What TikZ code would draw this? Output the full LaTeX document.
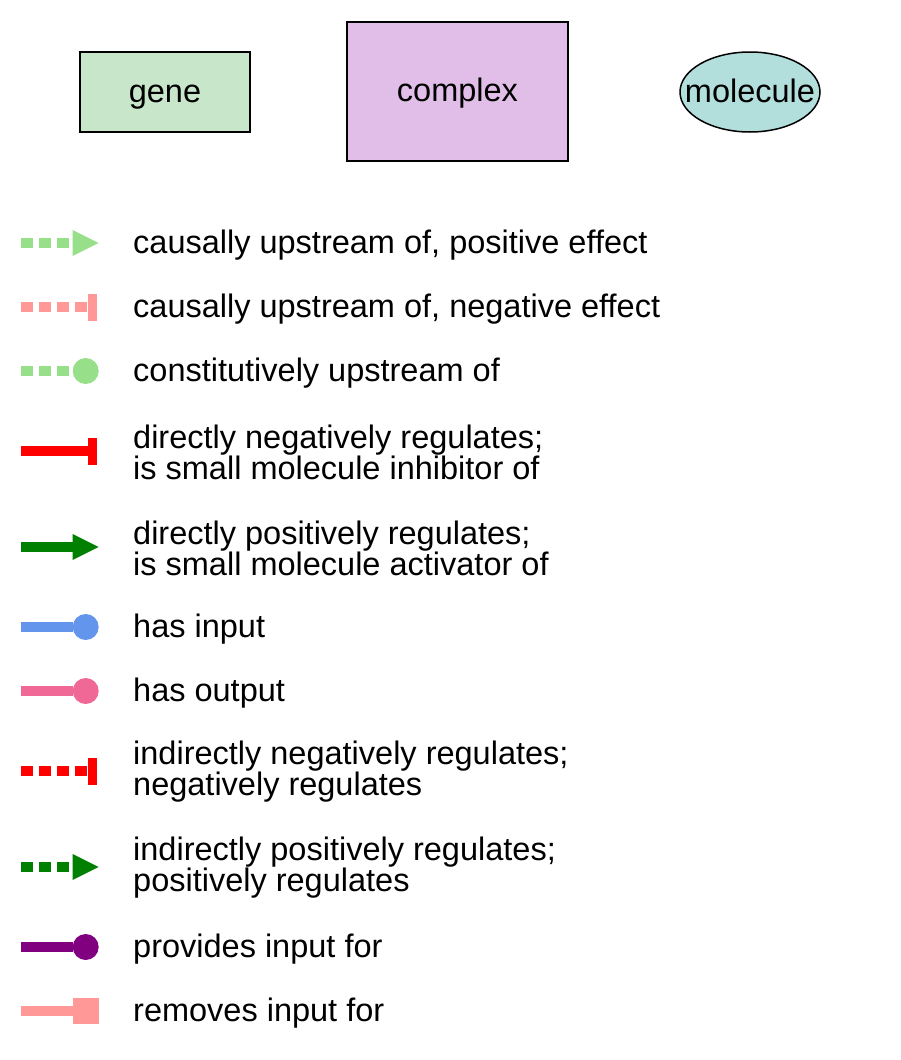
\documentclass[tikz,border=0pt]{standalone}
\usepackage{fontspec}
\setmainfont{Liberation Sans}
\usetikzlibrary{arrows.meta,shapes.geometric}
\definecolor{lgreen}{HTML}{98DF8A}
\definecolor{lsalmon}{HTML}{FF9896}
\definecolor{dgreen}{HTML}{008000}
\definecolor{cblue}{HTML}{6495ED}
\definecolor{hpink}{HTML}{F06896}
\definecolor{dpurple}{HTML}{800080}
\definecolor{genefill}{HTML}{C8E6C9}
\definecolor{cplxfill}{HTML}{E1BEE7}
\definecolor{molfill}{HTML}{B2DFDB}
\tikzset{
  txt/.style={font=\fontsize{32.5pt}{31pt}\selectfont, inner sep=0pt},
  lbl/.style={txt, anchor=base west},
  lbltwo/.style={txt, anchor=west, align=left},
  ent/.style={txt, draw=black, line width=1.5pt, text height=25pt, text depth=5pt},
  leg/.style={line width=9.5pt},
  dsh/.style={leg, dash pattern=on 12pt off 6pt},
  tri/.style={-{Triangle[length=26pt,width=26pt,line width=0pt]}},
  dot/.style={-{Circle[length=26pt,line width=0pt]}},
  bar/.style={-{Rectangle[length=9pt,width=27pt,line width=0pt]}},
  sqr/.style={-{Rectangle[length=26pt,width=26pt,line width=0pt]}},
}
\begin{document}
\begin{tikzpicture}[x=1pt,y=-1pt]
\useasboundingbox (0,0) rectangle (900,1060);
% entity legend
\node[ent, fill=genefill, rectangle, minimum width=170pt, minimum height=80pt] (gene) at (165,92) {gene};
\node[ent, fill=cplxfill, rectangle, minimum width=221pt, minimum height=139pt] (complex) at (457.5,91.5) {complex};
\node[ent, fill=molfill, ellipse, minimum width=140pt, minimum height=80pt] (molecule) at (750,92) {\makebox[0pt]{molecule}};
% relation legend: start and end points
\foreach \n/\y in {1/243,2/307,3/371,4/451,5/547,6/627,7/691,8/771,9/867,10/947,11/1011}{
  \coordinate (s\n) at (21,\y);
}
\coordinate (e1) at (98.7,243);
\coordinate (e2) at (97,307);
\coordinate (e3) at (98.7,371);
\coordinate (e4) at (97,451);
\coordinate (e5) at (98.7,547);
\coordinate (e6) at (98.7,627);
\coordinate (e7) at (98.7,691);
\coordinate (e8) at (97,771);
\coordinate (e9) at (98.7,867);
\coordinate (e10) at (98.7,947);
\coordinate (e11) at (98.7,1011);
\draw[dsh, tri, lgreen] (s1) -- (e1);
\draw[dsh, bar, lsalmon] (s2) -- (e2);
\draw[dsh, dot, lgreen] (s3) -- (e3);
\draw[leg, bar, red] (s4) -- (e4);
\draw[leg, tri, dgreen] (s5) -- (e5);
\draw[leg, dot, cblue] (s6) -- (e6);
\draw[leg, dot, hpink] (s7) -- (e7);
\draw[dsh, bar, red] (s8) -- (e8);
\draw[dsh, tri, dgreen] (s9) -- (e9);
\draw[leg, dot, dpurple] (s10) -- (e10);
\draw[leg, sqr, lsalmon] (s11) -- (e11);
% labels
\node[lbl] (l1) at (133,253) {causally upstream of, positive effect};
\node[lbl] (l2) at (133,317) {causally upstream of, negative effect};
\node[lbl] (l3) at (133,381) {constitutively upstream of};
\node[lbltwo] (l4) at (133,452) {directly negatively regulates;\\is small molecule inhibitor of};
\node[lbltwo] (l5) at (133,548) {directly positively regulates;\\is small molecule activator of};
\node[lbl] (l6) at (133,637) {has input};
\node[lbl] (l7) at (133,701) {has output};
\node[lbltwo] (l8) at (133,772) {indirectly negatively regulates;\\negatively regulates};
\node[lbltwo] (l9) at (133,868) {indirectly positively regulates;\\positively regulates};
\node[lbl] (l10) at (133,957) {provides input for};
\node[lbl] (l11) at (133,1021) {removes input for};
\end{tikzpicture}
\end{document}
